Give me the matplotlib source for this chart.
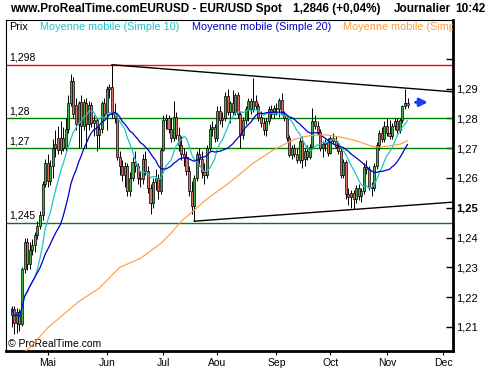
import numpy as np
import pandas as pd
import matplotlib
matplotlib.use('Agg')
import matplotlib.pyplot as plt

plt.rcParams['font.family'] = ['Liberation Sans', 'DejaVu Sans']

# daily EUR/USD candles, one per trading day (index 0 = mid April)
opens = [1.2140, 1.2160, 1.2115, 1.2150, 1.2110, 1.2295, 1.2385, 1.2310, 1.2360, 1.2375,
         1.2410, 1.2440, 1.2475, 1.2580, 1.2650, 1.2590, 1.2640, 1.2700, 1.2735, 1.2695,
         1.2735, 1.2700, 1.2765, 1.2850, 1.2925, 1.2845, 1.2780, 1.2855, 1.2775, 1.2850,
         1.2780, 1.2845, 1.2785, 1.2795, 1.2745, 1.2765, 1.2850, 1.2815, 1.2900, 1.2905,
         1.2815, 1.2800, 1.2670, 1.2640, 1.2610, 1.2640, 1.2555, 1.2600, 1.2655, 1.2640,
         1.2600, 1.2595, 1.2665, 1.2625, 1.2565, 1.2515, 1.2585, 1.2600, 1.2555, 1.2695,
         1.2795, 1.2800, 1.2765, 1.2735, 1.2805, 1.2745, 1.2710, 1.2680, 1.2670, 1.2625,
         1.2555, 1.2505, 1.2600, 1.2680, 1.2665, 1.2620, 1.2610, 1.2700, 1.2765, 1.2770,
         1.2735, 1.2825, 1.2795, 1.2800, 1.2875, 1.2820, 1.2850, 1.2822, 1.2878, 1.2815,
         1.2745, 1.2795, 1.2830, 1.2860, 1.2830, 1.2860, 1.2840, 1.2805, 1.2785, 1.2760,
         1.2790, 1.2830, 1.2815, 1.2835, 1.2830, 1.2862, 1.2815, 1.2800, 1.2733, 1.2677,
         1.2700, 1.2680, 1.2660, 1.2725, 1.2665, 1.2690, 1.2672, 1.2705, 1.2790, 1.2775,
         1.2755, 1.2700, 1.2715, 1.2720, 1.2685, 1.2733, 1.2725, 1.2705, 1.2690, 1.2610,
         1.2655, 1.2545, 1.2535, 1.2550, 1.2530, 1.2565, 1.2540, 1.2555, 1.2638, 1.2630,
         1.2570, 1.2565, 1.2640, 1.2710, 1.2750, 1.2730, 1.2775, 1.2750, 1.2740, 1.2775,
         1.2790, 1.2760, 1.2795, 1.2840, 1.2852]
highs = [1.2170, 1.2170, 1.2165, 1.2160, 1.2300, 1.2400, 1.2400, 1.2385, 1.2395, 1.2420,
         1.2455, 1.2490, 1.2590, 1.2665, 1.2680, 1.2660, 1.2730, 1.2760, 1.2775, 1.2790,
         1.2770, 1.2800, 1.2880, 1.2950, 1.2940, 1.2870, 1.2860, 1.2880, 1.2865, 1.2870,
         1.2860, 1.2855, 1.2810, 1.2800, 1.2775, 1.2860, 1.2870, 1.2910, 1.2915, 1.2980,
         1.2850, 1.2810, 1.2690, 1.2660, 1.2655, 1.2650, 1.2620, 1.2670, 1.2690, 1.2650,
         1.2625, 1.2680, 1.2690, 1.2640, 1.2580, 1.2600, 1.2630, 1.2615, 1.2700, 1.2810,
         1.2815, 1.2810, 1.2800, 1.2860, 1.2820, 1.2770, 1.2740, 1.2700, 1.2690, 1.2640,
         1.2590, 1.2610, 1.2690, 1.2700, 1.2690, 1.2650, 1.2710, 1.2780, 1.2790, 1.2780,
         1.2840, 1.2840, 1.2820, 1.2890, 1.2900, 1.2860, 1.2895, 1.2885, 1.2890, 1.2820,
         1.2805, 1.2840, 1.2870, 1.2870, 1.2937, 1.2880, 1.2850, 1.2825, 1.2800, 1.2800,
         1.2840, 1.2845, 1.2845, 1.2850, 1.2870, 1.2885, 1.2825, 1.2810, 1.2745, 1.2710,
         1.2715, 1.2700, 1.2735, 1.2740, 1.2700, 1.2710, 1.2715, 1.2835, 1.2810, 1.2790,
         1.2765, 1.2725, 1.2730, 1.2735, 1.2740, 1.2750, 1.2740, 1.2720, 1.2700, 1.2665,
         1.2660, 1.2565, 1.2560, 1.2560, 1.2575, 1.2580, 1.2565, 1.2650, 1.2660, 1.2640,
         1.2585, 1.2650, 1.2720, 1.2760, 1.2770, 1.2790, 1.2800, 1.2795, 1.2785, 1.2800,
         1.2800, 1.2800, 1.2845, 1.2898, 1.2870]
lows = [1.2100, 1.2075, 1.2080, 1.2085, 1.2105, 1.2280, 1.2290, 1.2295, 1.2340, 1.2350,
        1.2395, 1.2430, 1.2460, 1.2570, 1.2570, 1.2575, 1.2600, 1.2670, 1.2680, 1.2680,
        1.2690, 1.2690, 1.2750, 1.2840, 1.2800, 1.2760, 1.2700, 1.2705, 1.2760, 1.2700,
        1.2760, 1.2770, 1.2740, 1.2690, 1.2700, 1.2750, 1.2800, 1.2760, 1.2870, 1.2800,
        1.2785, 1.2660, 1.2610, 1.2590, 1.2570, 1.2540, 1.2540, 1.2590, 1.2620, 1.2580,
        1.2570, 1.2580, 1.2610, 1.2550, 1.2480, 1.2500, 1.2560, 1.2530, 1.2545, 1.2690,
        1.2765, 1.2750, 1.2720, 1.2725, 1.2730, 1.2690, 1.2660, 1.2640, 1.2610, 1.2540,
        1.2480, 1.2455, 1.2590, 1.2640, 1.2600, 1.2580, 1.2600, 1.2690, 1.2740, 1.2720,
        1.2725, 1.2780, 1.2770, 1.2790, 1.2810, 1.2785, 1.2810, 1.2810, 1.2800, 1.2700,
        1.2730, 1.2780, 1.2790, 1.2815, 1.2820, 1.2830, 1.2790, 1.2770, 1.2745, 1.2740,
        1.2780, 1.2800, 1.2800, 1.2810, 1.2805, 1.2810, 1.2790, 1.2725, 1.2670, 1.2665,
        1.2670, 1.2650, 1.2650, 1.2635, 1.2640, 1.2660, 1.2665, 1.2700, 1.2765, 1.2745,
        1.2690, 1.2670, 1.2690, 1.2675, 1.2680, 1.2715, 1.2700, 1.2680, 1.2600, 1.2600,
        1.2530, 1.2510, 1.2500, 1.2495, 1.2515, 1.2525, 1.2520, 1.2545, 1.2615, 1.2560,
        1.2540, 1.2555, 1.2630, 1.2695, 1.2720, 1.2720, 1.2740, 1.2730, 1.2730, 1.2760,
        1.2750, 1.2750, 1.2785, 1.2830, 1.2835]
closes = [1.2160, 1.2115, 1.2150, 1.2110, 1.2295, 1.2385, 1.2310, 1.2360, 1.2375, 1.2410,
          1.2440, 1.2475, 1.2580, 1.2650, 1.2590, 1.2640, 1.2700, 1.2715, 1.2695, 1.2735,
          1.2700, 1.2765, 1.2850, 1.2925, 1.2815, 1.2780, 1.2850, 1.2775, 1.2855, 1.2780,
          1.2845, 1.2785, 1.2795, 1.2745, 1.2765, 1.2850, 1.2815, 1.2900, 1.2905, 1.2815,
          1.2800, 1.2670, 1.2640, 1.2610, 1.2640, 1.2555, 1.2600, 1.2655, 1.2640, 1.2600,
          1.2595, 1.2665, 1.2625, 1.2565, 1.2515, 1.2585, 1.2600, 1.2555, 1.2695, 1.2795,
          1.2800, 1.2765, 1.2735, 1.2805, 1.2745, 1.2710, 1.2680, 1.2670, 1.2625, 1.2555,
          1.2505, 1.2600, 1.2680, 1.2665, 1.2620, 1.2610, 1.2700, 1.2765, 1.2770, 1.2735,
          1.2825, 1.2795, 1.2800, 1.2875, 1.2820, 1.2850, 1.2822, 1.2878, 1.2815, 1.2745,
          1.2795, 1.2830, 1.2860, 1.2830, 1.2860, 1.2840, 1.2805, 1.2785, 1.2760, 1.2790,
          1.2830, 1.2815, 1.2835, 1.2830, 1.2862, 1.2815, 1.2800, 1.2733, 1.2677, 1.2700,
          1.2680, 1.2660, 1.2725, 1.2660, 1.2690, 1.2672, 1.2705, 1.2790, 1.2775, 1.2755,
          1.2700, 1.2715, 1.2720, 1.2685, 1.2733, 1.2725, 1.2705, 1.2690, 1.2610, 1.2655,
          1.2545, 1.2535, 1.2550, 1.2530, 1.2565, 1.2540, 1.2555, 1.2638, 1.2630, 1.2570,
          1.2565, 1.2640, 1.2710, 1.2750, 1.2730, 1.2775, 1.2750, 1.2740, 1.2775, 1.2790,
          1.2760, 1.2795, 1.2840, 1.2852, 1.2846]

# 100-day moving average (needs history before the chart)
ma100_idx = [0, 7, 14, 26, 34, 42, 50, 58, 62, 66, 76, 84, 94, 102, 110, 116, 122,
             128, 134, 140, 143, 148, 151, 154]
ma100_val = [1.1985, 1.2030, 1.2097, 1.2185, 1.2230, 1.2300, 1.2330, 1.2380, 1.2415,
             1.2455, 1.2530, 1.2580, 1.2650, 1.2695, 1.2730, 1.2742, 1.2745, 1.2737,
             1.2725, 1.2707, 1.2703, 1.2709, 1.2713, 1.2725]

levels_green = [1.28, 1.27, 1.245]
level_labels = {1.298: '1,298', 1.28: '1,28', 1.27: '1,27', 1.245: '1,245'}
red_level = 1.298

top_trend_x = [39, 171.7]
top_trend_y = [1.2980, 1.2889]
low_trend_x = [71, 171.7]
low_trend_y = [1.2455, 1.2519]

month_pos = [14, 37, 59, 80, 103, 124, 146, 168]
month_labels = ['Mai', 'Jun', 'Jul', 'Aou', 'Sep', 'Oct', 'Nov', 'Dec']
price_ticks = [1.21, 1.22, 1.23, 1.24, 1.25, 1.26, 1.27, 1.28, 1.29, 1.30]

GREEN = '#3cb43c'
RED = '#dc6e64'
CYAN = '#20c4c8'
BLUE = '#0000c8'
ORANGE = '#ff9a3c'

o = np.array(opens)
h = np.array(highs)
l = np.array(lows)
c = np.array(closes)
x = np.arange(len(c))

sma10 = pd.Series(c).rolling(10, min_periods=1).mean()
sma20 = pd.Series(c).rolling(20, min_periods=1).mean()

fig = plt.figure(figsize=(5, 3.7), dpi=100)
ax = fig.add_axes([0.012, 0.0514, 0.894, 0.8946])

ax.axhline(red_level, color='#ff0000', lw=1.0, zorder=2)
for lv in levels_green:
    ax.axhline(lv, color='#008000', lw=1.0, zorder=2)
for lv, txt in level_labels.items():
    ax.annotate(txt, xy=(0, lv), xycoords=('axes fraction', 'data'),
                xytext=(2, 1.5), textcoords='offset points', va='bottom',
                fontsize=7.5)

ax.plot(top_trend_x, top_trend_y, color='black', lw=1.0, zorder=2)
ax.plot(low_trend_x, low_trend_y, color='black', lw=1.0, zorder=2)

# candles
colors = np.where(c >= o, GREEN, RED)
ax.vlines(x, l, h, color='black', lw=0.7, zorder=3)
ax.bar(x, np.maximum(np.abs(c - o), 0.0004), bottom=np.minimum(o, c), width=0.8,
       color=colors, edgecolor='black', linewidth=0.5, zorder=4)

ax.plot(x, sma10, color=CYAN, lw=0.9, zorder=5)
ax.plot(x, sma20, color=BLUE, lw=0.9, zorder=5)
ax.plot(ma100_idx, ma100_val, color=ORANGE, lw=0.8, zorder=5)

ax.annotate('', xy=(163, 1.2854), xytext=(156, 1.2854),
            arrowprops=dict(arrowstyle='-|>', color='#1a3cff', lw=2, mutation_scale=12))

ax.set_xlim(-2.23, 171.7)
ax.set_ylim(1.20195, 1.31302)

ax.set_xticks(month_pos)
ax.set_xticklabels(month_labels)
ax.tick_params(axis='x', direction='out', length=3, labelsize=7.5, pad=2)

ax.yaxis.tick_right()
ax.set_yticks(price_ticks)
ax.set_yticklabels(['{:.2f}'.format(t).replace('.', ',') if t < 1.295 else '' for t in price_ticks])
ax.tick_params(axis='y', direction='in', length=5, width=1, labelsize=8, pad=2)
for t, lab in zip(price_ticks, ax.get_yticklabels()):
    if abs(t - 1.25) < 1e-6:
        lab.set_fontweight('bold')

ax.spines['left'].set_linewidth(0.8)
ax.spines['top'].set_linewidth(0.8)
ax.spines['bottom'].set_linewidth(2)
ax.spines['right'].set_linewidth(2)

# legend row
ax.text(0.0067, 0.979, 'Prix', fontsize=7.8, va='center', transform=ax.transAxes)
ax.text(0.076, 0.979, 'Moyenne mobile (Simple 10)', fontsize=7.8, color=CYAN,
        va='center', transform=ax.transAxes)
ax.text(0.416, 0.979, 'Moyenne mobile (Simple 20)', fontsize=7.8, color=BLUE,
        va='center', transform=ax.transAxes)
ax.text(0.754, 0.979, 'Moyenne mobile (Simple 100)', fontsize=7.8, color=ORANGE,
        va='center', transform=ax.transAxes, clip_on=True)

ax.text(0.004, 0.021, '\u00a9 ProRealTime.com', fontsize=7.5, va='center',
        transform=ax.transAxes)

# header
fig.text(0.02, 0.9757, 'www.ProRealTime.comEURUSD - EUR/USD Spot', fontsize=8.5,
         fontweight='bold', va='center')
fig.text(0.586, 0.9757, '1,2846 (+0,04%)', fontsize=8.5, fontweight='bold', va='center')
fig.text(0.788, 0.9757, 'Journalier', fontsize=8.5, fontweight='bold', va='center')
fig.text(0.91, 0.9757, '10:42', fontsize=8.5, fontweight='bold', va='center')

fig.savefig('out.png', dpi=100)
